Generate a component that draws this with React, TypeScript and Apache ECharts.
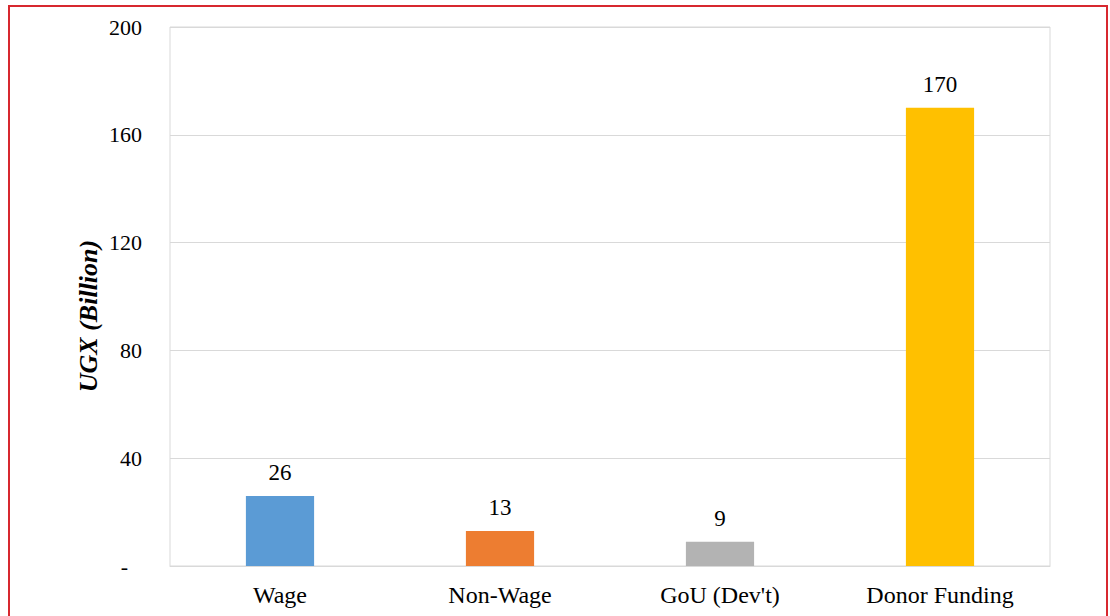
import React, { useEffect, useRef } from "react";
import * as echarts from "echarts";

const categories = ["Wage", "Non-Wage", "GoU (Dev't)", "Donor Funding"];
const values = [26, 13, 9, 170];
const barColors = ["#5B9BD5", "#ED7D31", "#B3B3B3", "#FFC000"];
const yTicks = { min: 0, max: 200, interval: 40 };
const yAxisTitle = "UGX (Billion)";

export default function App() {
  const ref = useRef<HTMLDivElement>(null);

  useEffect(() => {
    if (!ref.current) return;
    const chart = echarts.init(ref.current, null, { renderer: "svg" });
    const font = "'Liberation Serif', 'Times New Roman', serif";
    chart.setOption({
      animation: false,
      backgroundColor: "#ffffff",
      grid: {
        left: 170,
        right: 60,
        top: 27,
        bottom: 50,
        show: true,
        borderColor: "#d9d9d9",
        borderWidth: 1,
      },
      xAxis: {
        type: "category",
        data: categories,
        axisLine: { lineStyle: { color: "#d9d9d9", width: 1 } },
        axisTick: { show: false },
        axisLabel: {
          color: "#000",
          fontFamily: font,
          fontSize: 24,
          margin: 17,
        },
      },
      yAxis: {
        type: "value",
        min: yTicks.min,
        max: yTicks.max,
        interval: yTicks.interval,
        axisLine: { show: false },
        axisTick: { show: false },
        splitLine: { lineStyle: { color: "#d9d9d9", width: 1 } },
        axisLabel: {
          color: "#000",
          fontFamily: font,
          fontSize: 22,
          margin: 28,
          formatter: (v: number) => (v === 0 ? "{z|-}" : String(v)),
          rich: {
            z: {
              fontFamily: font,
              fontSize: 22,
              color: "#000",
              padding: [0, 14, 0, 0],
            },
          },
        },
      },
      series: [
        {
          type: "bar",
          barWidth: "31%",
          data: values.map((v, i) => ({
            value: v,
            itemStyle: { color: barColors[i] },
          })),
          label: {
            show: true,
            position: "top",
            distance: 12,
            color: "#000",
            fontFamily: font,
            fontSize: 23,
          },
        },
      ],
      graphic: [
        {
          type: "rect",
          shape: { x: 9, y: 6, width: 1098, height: 640 },
          style: { fill: "none", stroke: "#d7282f", lineWidth: 2 },
          silent: true,
        },
        {
          type: "text",
          x: 88,
          y: 316,
          rotation: Math.PI / 2,
          style: {
            text: yAxisTitle,
            fill: "#000",
            font: `italic bold 26px ${font}`,
            align: "center",
            verticalAlign: "middle",
          },
        },
      ],
    });
    return () => chart.dispose();
  }, []);

  return (
    <div
      ref={ref}
      style={{ position: "fixed", left: 0, top: 0, width: 1110, height: 616 }}
    />
  );
}
